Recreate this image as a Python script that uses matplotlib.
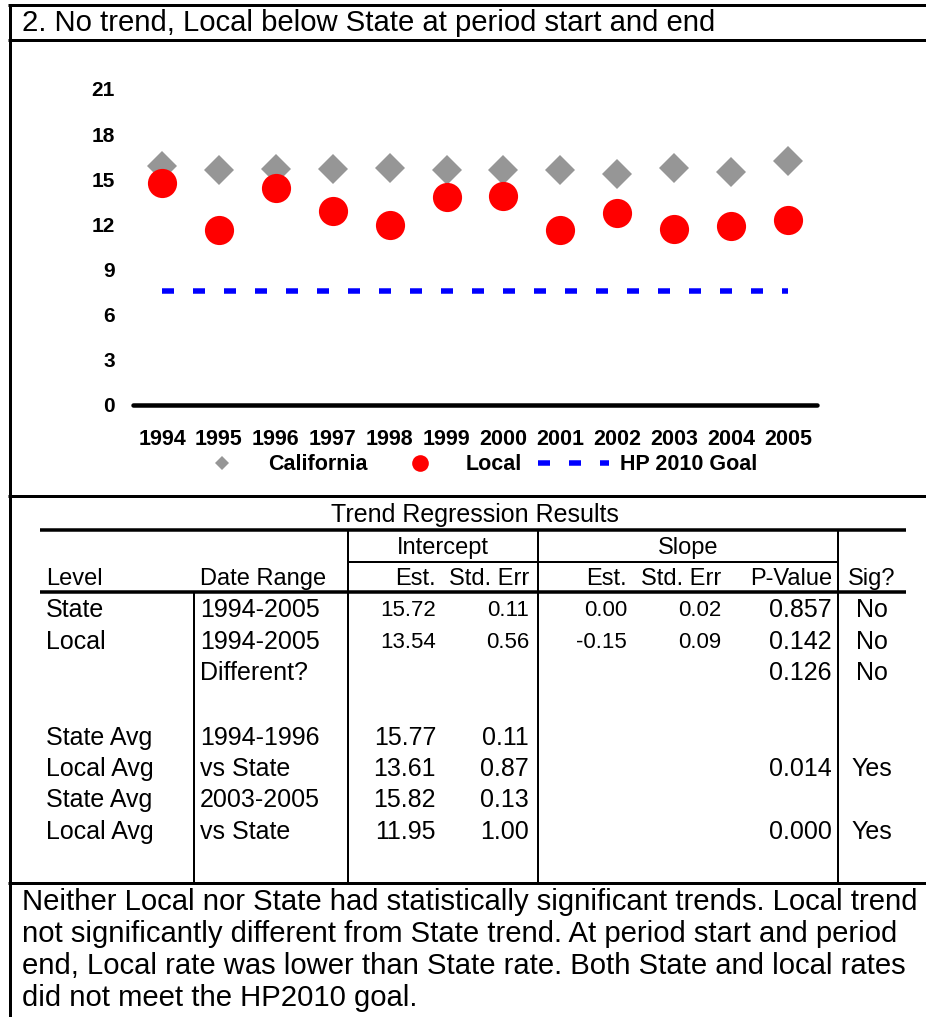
import matplotlib
matplotlib.use("Agg")
import matplotlib.pyplot as plt
from matplotlib.lines import Line2D

plt.rcParams['font.family'] = ['Liberation Sans', 'DejaVu Sans']

# ---------------- data ----------------
title_text = "2. No trend, Local below State at period start and end"
years = [1994, 1995, 1996, 1997, 1998, 1999, 2000, 2001, 2002, 2003, 2004, 2005]
california = [15.9, 15.65, 15.7, 15.7, 15.75, 15.65, 15.6, 15.6, 15.35, 15.75, 15.5, 16.2]
local = [14.75, 11.65, 14.4, 12.9, 11.95, 13.85, 13.9, 11.65, 12.75, 11.7, 11.9, 12.3]
hp2010_goal = 7.6
y_ticks = [0, 3, 6, 9, 12, 15, 18, 21]
series_labels = ["California", "Local", "HP 2010 Goal"]

table_title = "Trend Regression Results"
group_headers = ["Intercept", "Slope"]
col_headers = ["Level", "Date Range", "Est.", "Std. Err", "Est.", "Std. Err", "P-Value", "Sig?"]
table_rows = [
    ["State", "1994-2005", "15.72", "0.11", "0.00", "0.02", "0.857", "No"],
    ["Local", "1994-2005", "13.54", "0.56", "-0.15", "0.09", "0.142", "No"],
    ["", "Different?", "", "", "", "", "0.126", "No"],
    ["", "", "", "", "", "", "", ""],
    ["State Avg", "1994-1996", "15.77", "0.11", "", "", "", ""],
    ["Local Avg", "vs State", "13.61", "0.87", "", "", "0.014", "Yes"],
    ["State Avg", "2003-2005", "15.82", "0.13", "", "", "", ""],
    ["Local Avg", "vs State", "11.95", "1.00", "", "", "0.000", "Yes"],
]
summary_lines = [
    "Neither Local nor State had statistically significant trends. Local trend",
    "not significantly different from State trend. At period start and period",
    "end, Local rate was lower than State rate. Both State and local rates",
    "did not meet the HP2010 goal.",
]

# ---------------- figure ----------------
W, H = 926, 1017
fig = plt.figure(figsize=(W / 100, H / 100), dpi=100)
fig.patch.set_facecolor("white")

ov = fig.add_axes([0, 0, 1, 1])
ov.set_xlim(0, W)
ov.set_ylim(H, 0)
ov.axis("off")

px = 72 / 100  # points per pixel


def hline(y, x0, x1, w):
    ov.plot([x0, x1], [y, y], color="black", lw=w * px, solid_capstyle="butt")


def vline(x, y0, y1, w):
    ov.plot([x, x], [y0, y1], color="black", lw=w * px, solid_capstyle="butt")


# frame lines
vline(9.5, 4, H, 3)
hline(5, 8, W, 3)
hline(40, 8, W, 3)
hline(496, 8, W, 3)
hline(883, 8, W, 3)

ov.text(22, 23, title_text, fontsize=21.1, va="center", ha="left")

# ---------------- chart ----------------
ax_left, ax_right, ax_bottom = 133, 817, 405
y_top_val = 24
px_per_unit = (405 - 89) / 21
ax_top = ax_bottom - y_top_val * px_per_unit
ax = fig.add_axes([ax_left / W, 1 - ax_bottom / H, (ax_right - ax_left) / W, (ax_bottom - ax_top) / H])
ax.patch.set_alpha(0)
ax.set_xlim(1993.49, 2005.51)
ax.set_ylim(0, y_top_val)
for s in ["top", "right", "left"]:
    ax.spines[s].set_visible(False)
ax.spines["bottom"].set_linewidth(4.5 * px)
ax.spines["bottom"].set_capstyle("round")
ax.set_yticks(y_ticks)
ax.set_yticklabels([str(v) for v in y_ticks], fontsize=15, fontweight="bold")
ax.set_xticks(years)
ax.set_xticklabels([str(v) for v in years], fontsize=15.5, fontweight="bold")
ax.tick_params(axis="y", length=0, pad=13)
ax.tick_params(axis="x", length=0, pad=17)

gray = "#969696"
ax.plot(years, california, linestyle="none", marker="D", markersize=14.8,
        color=gray, markeredgewidth=0, zorder=3, clip_on=False)
ax.plot(years, local, linestyle="none", marker="o", markersize=21,
        color="#FF0000", markeredgewidth=0, zorder=4, clip_on=False)
goal_lw = 5.5 * px
dash_pat = (0, (12 * px / goal_lw, 19 * px / goal_lw))
ax.plot([years[0], years[-1]], [hp2010_goal, hp2010_goal], color="#0000FF",
        lw=goal_lw, linestyle=dash_pat, dash_capstyle="butt", zorder=2)

handles = [
    Line2D([], [], linestyle="none", marker="D", markersize=7.6, color=gray, markeredgewidth=0),
    Line2D([], [], linestyle="none", marker="o", markersize=12, color="#FF0000", markeredgewidth=0),
    Line2D([], [], color="#0000FF", lw=goal_lw, linestyle=dash_pat, dash_capstyle="butt"),
]
leg = ax.legend(handles, series_labels, loc="center",
                bbox_to_anchor=(472 / W, 1 - 465 / H), bbox_transform=fig.transFigure,
                ncol=3, frameon=False, prop={"size": 15.5, "weight": "bold"},
                handlelength=3.3, handletextpad=0.5, columnspacing=0.75,
                borderpad=0, borderaxespad=0)

# ---------------- table ----------------
ov.text(475, 515, table_title, fontsize=18, ha="center", va="center")
hline(530, 40, 906, 3.5)
hline(592, 40, 906, 3.5)
hline(562, 347, 838, 2)
vline(347.5, 531, 883, 2)
vline(537.5, 531, 883, 2)
vline(837.5, 531, 883, 2)
vline(194, 592, 883, 2)

group_x = [443, 688]
for gx, g in zip(group_x, group_headers):
    ov.text(gx, 548, g, fontsize=17, ha="center", va="center")

col_x = [46, 200, 436, 529, 627, 721, 832, 872]
col_ha = ["left", "left", "right", "right", "right", "right", "right", "center"]
for cx, ha, h in zip(col_x, col_ha, col_headers):
    ov.text(cx, 579, h, fontsize=17, ha=ha, va="center")

row_y = [610, 642, 673, 705, 738, 769, 800, 832]
for ri, (ry, row) in enumerate(zip(row_y, table_rows)):
    for ci, (cx, ha, val) in enumerate(zip(col_x, col_ha, row)):
        if not val:
            continue
        fs = 18
        if ri < 2 and 2 <= ci <= 5:
            fs = 16
        ov.text(cx, ry, val, fontsize=fs, ha=ha, va="center")

# ---------------- summary text ----------------
for i, line in enumerate(summary_lines):
    ov.text(22, 902 + i * 32, line, fontsize=21.1, ha="left", va="center")

fig.savefig("out.png", dpi=100, facecolor="white")
